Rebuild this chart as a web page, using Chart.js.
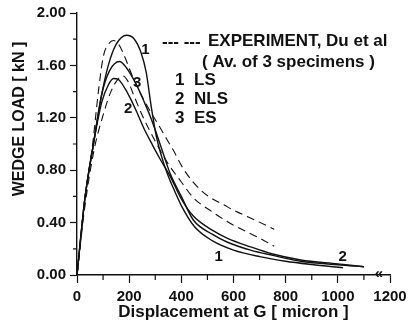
<!DOCTYPE html>
<html>
<head>
<meta charset="utf-8">
<script src="https://cdn.jsdelivr.net/npm/chart.js@4/dist/chart.umd.min.js"></script>
<style>
  html, body { margin: 0; padding: 0; background: #fff; }
  #wrap { width: 418px; height: 327px; }
</style>
</head>
<body>
<div id="wrap"><canvas id="myChart"></canvas></div>
<script>
// --- data (displacement in micron, load in kN) ---
const lsX  = [0, 10, 30, 63, 95, 120, 150, 190, 220, 245, 265, 285, 305, 325, 345, 370, 400, 450, 520, 600, 700, 800, 900, 1020];
const lsY  = [0, 0.2, 0.58, 1.0, 1.38, 1.60, 1.76, 1.83, 1.80, 1.70, 1.55, 1.28, 1.05, 0.90, 0.78, 0.66, 0.53, 0.37, 0.26, 0.19, 0.14, 0.105, 0.08, 0.055];

const nlsX = [0, 10, 30, 63, 95, 120, 140, 160, 185, 204, 230, 254, 290, 320, 358, 400, 446, 520, 577, 665, 750, 858, 1000, 1100];
const nlsY = [0, 0.2, 0.58, 1.0, 1.32, 1.45, 1.50, 1.49, 1.42, 1.35, 1.24, 1.13, 0.99, 0.88, 0.75, 0.58, 0.45, 0.34, 0.28, 0.215, 0.16, 0.115, 0.085, 0.063];

const esX  = [0, 10, 30, 63, 95, 125, 163, 190, 231, 260, 281, 310, 335, 358, 400, 446, 520, 577, 665, 750, 858, 1000, 1100];
const esY  = [0, 0.2, 0.58, 1.0, 1.38, 1.56, 1.63, 1.58, 1.44, 1.31, 1.21, 1.05, 0.90, 0.77, 0.60, 0.42, 0.31, 0.25, 0.19, 0.15, 0.105, 0.078, 0.063];

// experiment band, upper and lower dashed curves
const expAX = [0, 30, 60, 82, 101, 120, 140, 160, 180, 210, 250, 281, 320, 346, 370, 408, 473, 577, 692, 756];
const expAY = [0, 0.58, 1.0, 1.40, 1.67, 1.76, 1.79, 1.76, 1.68, 1.53, 1.36, 1.25, 1.12, 1.03, 0.95, 0.81, 0.65, 0.52, 0.41, 0.35];

const expBX = [0, 30, 65, 100, 130, 155, 175, 195, 220, 250, 300, 346, 400, 446, 520, 600, 692, 756];
const expBY = [0, 0.52, 0.95, 1.22, 1.40, 1.49, 1.52, 1.48, 1.36, 1.22, 1.02, 0.86, 0.71, 0.59, 0.48, 0.38, 0.29, 0.22];

const xTicks = [0, 200, 400, 600, 800, 1000, 1200];
const yTicks = [0, 0.4, 0.8, 1.2, 1.6, 2.0];

// curve labels inside the plot: [text, x, y]
const curveLabels = [['1', 262, 1.72], ['3', 231, 1.47], ['2', 196, 1.27], ['1', 543, 0.14], ['2', 1019, 0.14]];

function pts(xs, ys) {
    return xs.map((x, i) => ({ x: x, y: ys[i] }));
}

const FONT = '"Liberation Sans", Arial, sans-serif';

function solid(data) {
    return { data: data, borderColor: '#111', borderWidth: 1.4, pointRadius: 0,
             cubicInterpolationMode: 'monotone', fill: false };
}
function dashed(data) {
    return { data: data, borderColor: '#111', borderWidth: 1.1, borderDash: [8, 5], pointRadius: 0,
             cubicInterpolationMode: 'monotone', fill: false };
}

// minor ticks, curve labels, legend text, y title
const extras = {
    id: 'extras',
    afterDraw(chart) {
        const c = chart.ctx;
        const xs = chart.scales.x, ys = chart.scales.y;
        c.save();
        c.strokeStyle = '#111';
        c.lineWidth = 1.2;
        c.beginPath();
        for (let v = 100; v < 1200; v += 200) {
            const px = xs.getPixelForValue(v);
            c.moveTo(px, ys.bottom); c.lineTo(px, ys.bottom + 5);
        }
        for (let v = 0.2; v < 2.0; v += 0.4) {
            const py = ys.getPixelForValue(v);
            c.moveTo(xs.left, py); c.lineTo(xs.left - 4, py);
        }
        c.stroke();

        c.fillStyle = '#111';
        c.font = 'bold 15px ' + FONT;
        c.textBaseline = 'middle';
        c.textAlign = 'center';
        curveLabels.forEach(l => c.fillText(l[0], xs.getPixelForValue(l[1]), ys.getPixelForValue(l[2])));

        // legend
        c.font = 'bold 17px ' + FONT;
        c.textAlign = 'left';
        c.fillText('--- ---', 162, 42);
        c.fillText('EXPERIMENT, Du et al', 208, 41);
        c.fillText('( Av. of 3 specimens )', 202, 62);
        c.fillText('1', 175, 80);  c.fillText('LS', 194, 80);
        c.fillText('2', 175, 99);  c.fillText('NLS', 194, 99);
        c.fillText('3', 175, 118); c.fillText('ES', 194, 118);

        // axis break mark
        c.font = 'bold 15px ' + FONT;
        c.textAlign = 'center';
        c.fillText('\u00ab', 379, ys.bottom - 1);

        // y title
        c.font = 'bold 16px ' + FONT;
        c.translate(20, 119);
        c.rotate(-Math.PI / 2);
        c.fillText('WEDGE LOAD [ kN ]', 0, 0);
        c.restore();
    }
};

const ctx = document.getElementById('myChart').getContext('2d');
const myChart = new Chart(ctx, {
    type: 'line',
    data: {
        datasets: [
            solid(pts(lsX, lsY)),
            solid(pts(nlsX, nlsY)),
            solid(pts(esX, esY)),
            dashed(pts(expAX, expAY)),
            dashed(pts(expBX, expBY))
        ]
    },
    options: {
        responsive: true,
        maintainAspectRatio: false,
        animation: false,
        layout: { padding: { top: 13, right: 28, left: 0, bottom: 0 } },
        plugins: { legend: { display: false }, tooltip: { enabled: false } },
        scales: {
            x: {
                type: 'linear', min: 0, max: 1200,
                afterBuildTicks: s => { s.ticks = xTicks.map(v => ({ value: v })); },
                afterFit: s => { s.height = 52; },
                border: { display: true, color: '#111', width: 1.4 },
                grid: { drawOnChartArea: false, drawTicks: true, tickLength: 8, tickColor: '#111', tickWidth: 1.2 },
                ticks: { color: '#111', padding: 5, maxRotation: 0, font: { family: FONT, size: 15, weight: 'bold' },
                         callback: v => String(v) },
                title: { display: true, text: 'Displacement at G [ micron ]', color: '#111',
                         padding: { top: 0, bottom: 4 }, font: { family: FONT, size: 17, weight: 'bold' } }
            },
            y: {
                type: 'linear', min: 0, max: 2.0,
                afterBuildTicks: s => { s.ticks = yTicks.map(v => ({ value: v })); },
                afterFit: s => { s.width = 77; },
                border: { display: true, color: '#111', width: 1.4 },
                grid: { drawOnChartArea: false, drawTicks: true, tickLength: 7, tickColor: '#111', tickWidth: 1.2 },
                ticks: { color: '#111', padding: 4, font: { family: FONT, size: 15, weight: 'bold' },
                         callback: v => v.toFixed(2) }
            }
        }
    },
    plugins: [extras]
});
</script>
</body>
</html>
